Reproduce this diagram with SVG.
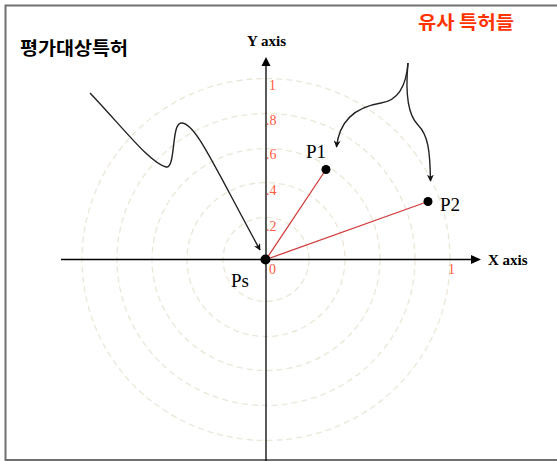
<svg xmlns="http://www.w3.org/2000/svg" width="557" height="461" viewBox="0 0 557 461">
<style>
.ring{fill:none;stroke:#ebe6d8;stroke-width:1.3;stroke-dasharray:6 4}
.axis{stroke:#000;stroke-width:1.3;fill:none}
.tick{font-family:"Liberation Serif",serif;font-size:14px;fill:#ff5a3c}
.axlbl{font-family:"Liberation Serif",serif;font-size:15px;font-weight:bold;fill:#000}
.plbl{font-family:"Liberation Serif",serif;font-size:19px;fill:#000}
.vec{stroke:#d23c3c;stroke-width:1.3;fill:none}
.conn{stroke:#222;stroke-width:1.4;fill:none;marker-end:url(#ah)}
.kr{font-family:"Noto Sans CJK KR",sans-serif;font-weight:bold;font-size:18px}
</style>
<defs>
<marker id="ah" viewBox="0 0 10 10" refX="9" refY="5" markerWidth="7" markerHeight="7" markerUnits="userSpaceOnUse" orient="auto">
<path d="M0,0 L10,5 L0,10 L3,5 z" fill="#111"/>
</marker>
</defs>
<rect width="557" height="461" fill="#fff"/>
<path d="M558,5.5 H5.5 V460 H558" fill="none" stroke="#707070" stroke-width="2"/>
<g id="rings">
<ellipse class="ring" cx="266" cy="259.5" rx="43" ry="42"/>
<ellipse class="ring" cx="266" cy="259.5" rx="79" ry="77"/>
<ellipse class="ring" cx="266" cy="259.5" rx="114" ry="111"/>
<ellipse class="ring" cx="266" cy="259.5" rx="149" ry="146"/>
<ellipse class="ring" cx="266" cy="259.5" rx="184" ry="181"/>
</g>
<g id="axes">
<line class="axis" x1="61" y1="259.5" x2="472" y2="259.5"/>
<polygon points="481,259.5 471,255 471,264" fill="#000"/>
<line class="axis" x1="266" y1="461" x2="266" y2="66"/>
<polygon points="266,57 261.5,66 270.5,66" fill="#000"/>
<text class="axlbl" x="488" y="265">X axis</text>
<text class="axlbl" x="247" y="46">Y axis</text>
</g>
<g id="ticks">
<text class="tick" x="269" y="90">1</text>
<text class="tick" x="266" y="125">.8</text>
<text class="tick" x="266" y="159">.6</text>
<text class="tick" x="266" y="195">.4</text>
<text class="tick" x="266" y="231">.2</text>
<text class="tick" x="269" y="274">0</text>
<text class="tick" x="448" y="274">1</text>
</g>
<g id="vectors">
<line class="vec" x1="266" y1="259.5" x2="326" y2="169.5"/>
<line class="vec" x1="266" y1="259.5" x2="428" y2="201.5"/>
</g>
<g id="Ps">
<circle cx="265.5" cy="259.5" r="5" fill="#000"/>
<text class="plbl" x="231" y="287">Ps</text>
</g>
<g id="P1">
<circle cx="326" cy="169.5" r="4.5" fill="#000"/>
<text class="plbl" x="306" y="157.5">P1</text>
</g>
<g id="P2">
<circle cx="428" cy="201.5" r="4.5" fill="#000"/>
<text class="plbl" x="440" y="211">P2</text>
</g>
<g id="connectors">
<path class="conn" d="M90,93 C125,130 150,163 166,167 C176,169 171,124 181,123 C195,122 212,162 260,250"/>
<path class="conn" d="M408,63 C406,90 395,101 381,103 C362,106 340,115 336.5,147"/>
<path class="conn" d="M408,63 C405,95 408,115 418,125 C428,135 430,150 430.5,181"/>
</g>
<g id="label-target">
<text class="kr" x="20" y="54.5" fill="#000" textLength="108" lengthAdjust="spacingAndGlyphs">평가대상특허</text>
</g>
<g id="label-similar">
<text class="kr" x="418" y="29" fill="#ff3300" textLength="96" lengthAdjust="spacingAndGlyphs">유사 특허들</text>
</g>
</svg>
